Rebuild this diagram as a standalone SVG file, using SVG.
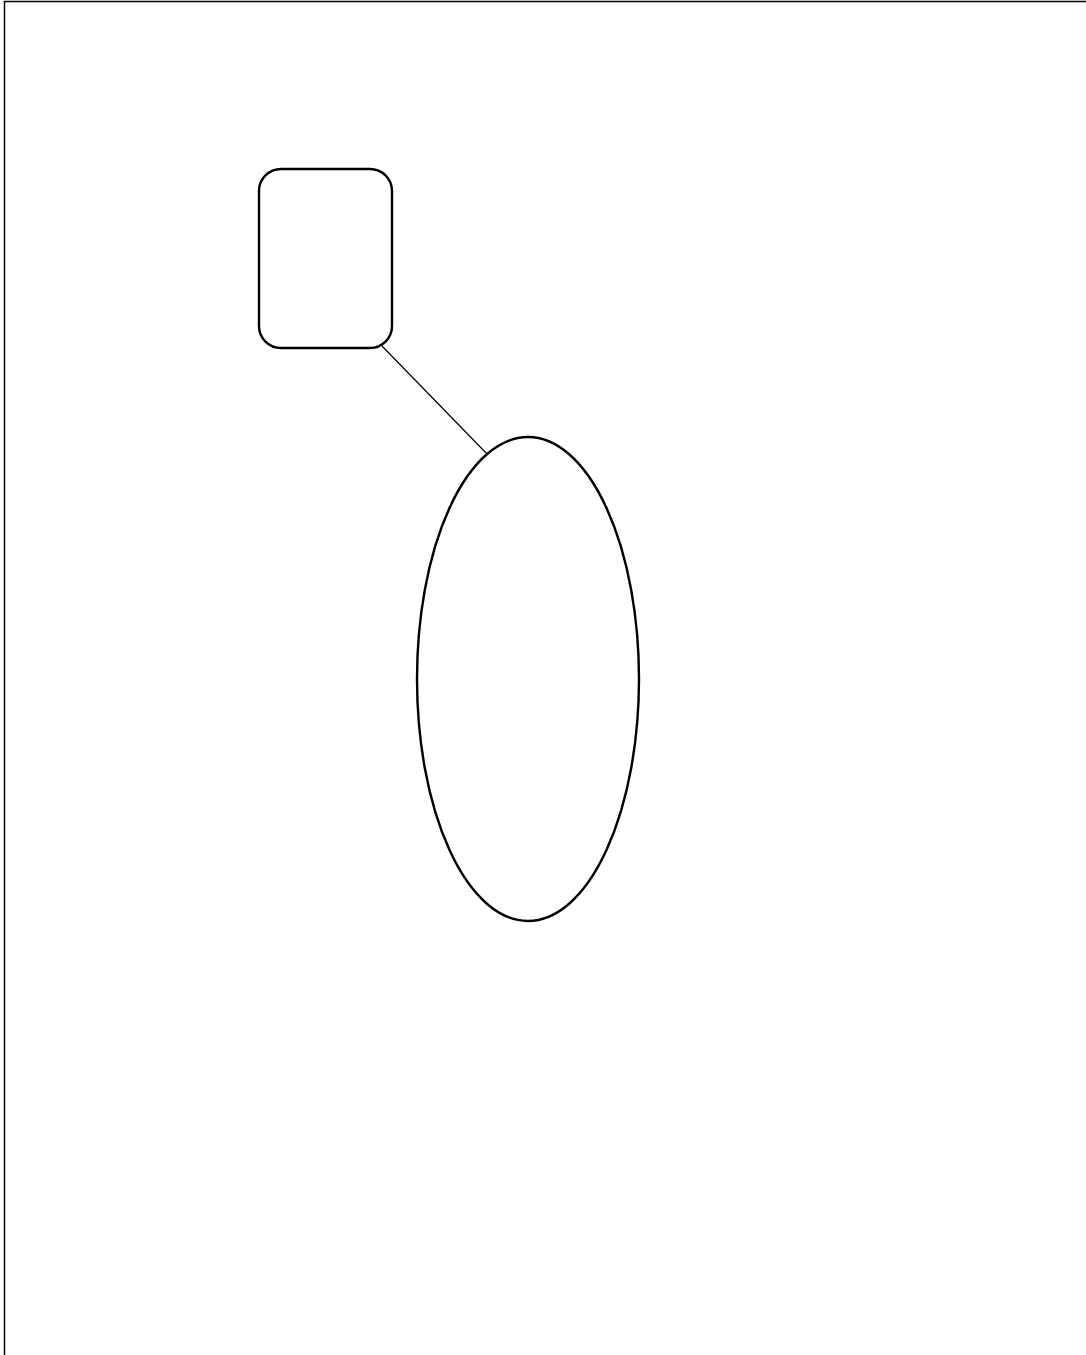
<svg xmlns="http://www.w3.org/2000/svg" width="1086" height="1355" viewBox="0 0 1086 1355">
<style>
.node{fill:#fff;stroke:#000;stroke-width:2.4}
.edge{stroke:#000;stroke-width:1.2;fill:none}
</style>
<rect x="0" y="0" width="1086" height="1355" fill="#fff"/>
<rect x="4.5" y="1.5" width="1200" height="1500" fill="none" stroke="#000" stroke-width="1.5"/>
<g id="connectors">
<line class="edge" x1="382" y1="346" x2="488" y2="455"/>
</g>
<g id="node-box">
<rect class="node" x="259" y="169" width="133" height="179" rx="22" ry="22"/>
</g>
<g id="node-ellipse">
<ellipse class="node" cx="528" cy="679" rx="111" ry="242"/>
</g>
</svg>
